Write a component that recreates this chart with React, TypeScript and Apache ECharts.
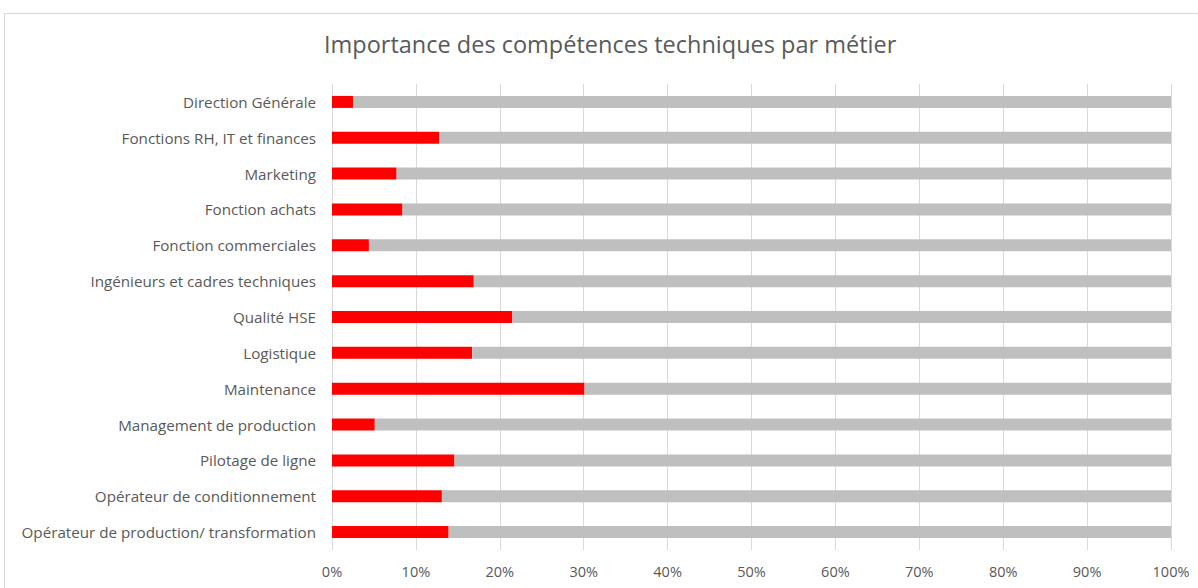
import React, { useEffect, useRef } from "react";
import * as echarts from "echarts";

const categories = [
  "Direction Générale",
  "Fonctions RH, IT et finances",
  "Marketing",
  "Fonction achats",
  "Fonction commerciales",
  "Ingénieurs et cadres techniques",
  "Qualité HSE",
  "Logistique",
  "Maintenance",
  "Management de production",
  "Pilotage de ligne",
  "Opérateur de conditionnement",
  "Opérateur de production/ transformation",
];

const techValues = [2.5, 12.8, 7.7, 8.4, 4.4, 16.9, 21.5, 16.7, 30.1, 5.1, 14.6, 13.1, 13.9];
const restValues = techValues.map((v) => +(100 - v).toFixed(1));

const titleText = "Importance des compétences techniques par métier";

export default function App() {
  const ref = useRef<HTMLDivElement>(null);
  useEffect(() => {
    if (!ref.current) return;
    const chart = echarts.init(ref.current, null, { renderer: "svg" });
    const font = "'Open Sans', 'Noto Sans', sans-serif";
    chart.setOption({
      animation: false,
      backgroundColor: "#ffffff",
      textStyle: { fontFamily: font },
      title: {
        text: titleText,
        left: 324,
        top: 32,
        padding: 0,
        textStyle: { fontSize: 23.5, fontWeight: "normal", color: "#595959", fontFamily: font },
      },
      graphic: [
        {
          type: "rect",
          shape: { x: 4.5, y: 13.5, width: 1210, height: 600 },
          style: { fill: "none", stroke: "#d9d9d9", lineWidth: 1 },
          silent: true,
        },
      ],
      grid: { left: 332, right: 27, top: 84, height: 466, containLabel: false },
      xAxis: {
        type: "value",
        min: 0,
        max: 100,
        interval: 10,
        axisLine: { show: false },
        axisTick: { show: false },
        splitLine: { show: true, lineStyle: { color: "#d9d9d9", width: 1 } },
        axisLabel: {
          formatter: "{value}%",
          color: "#595959",
          fontSize: 14.5,
          margin: 14,
          fontFamily: font,
        },
      },
      yAxis: {
        type: "category",
        data: categories,
        inverse: true,
        axisLine: { show: false },
        axisTick: { show: false },
        axisLabel: { color: "#595959", fontSize: 15.2, margin: 16, fontFamily: font },
      },
      series: [
        {
          name: "Compétences techniques",
          type: "bar",
          stack: "total",
          data: techValues,
          barWidth: 12,
          itemStyle: { color: "#ff0000" },
        },
        {
          name: "Autres",
          type: "bar",
          stack: "total",
          data: restValues,
          barWidth: 12,
          itemStyle: { color: "#bfbfbf" },
        },
      ],
    });
    return () => chart.dispose();
  }, []);
  return (
    <div
      ref={ref}
      style={{ position: "fixed", left: 0, top: 0, width: 1198, height: 588 }}
    />
  );
}
